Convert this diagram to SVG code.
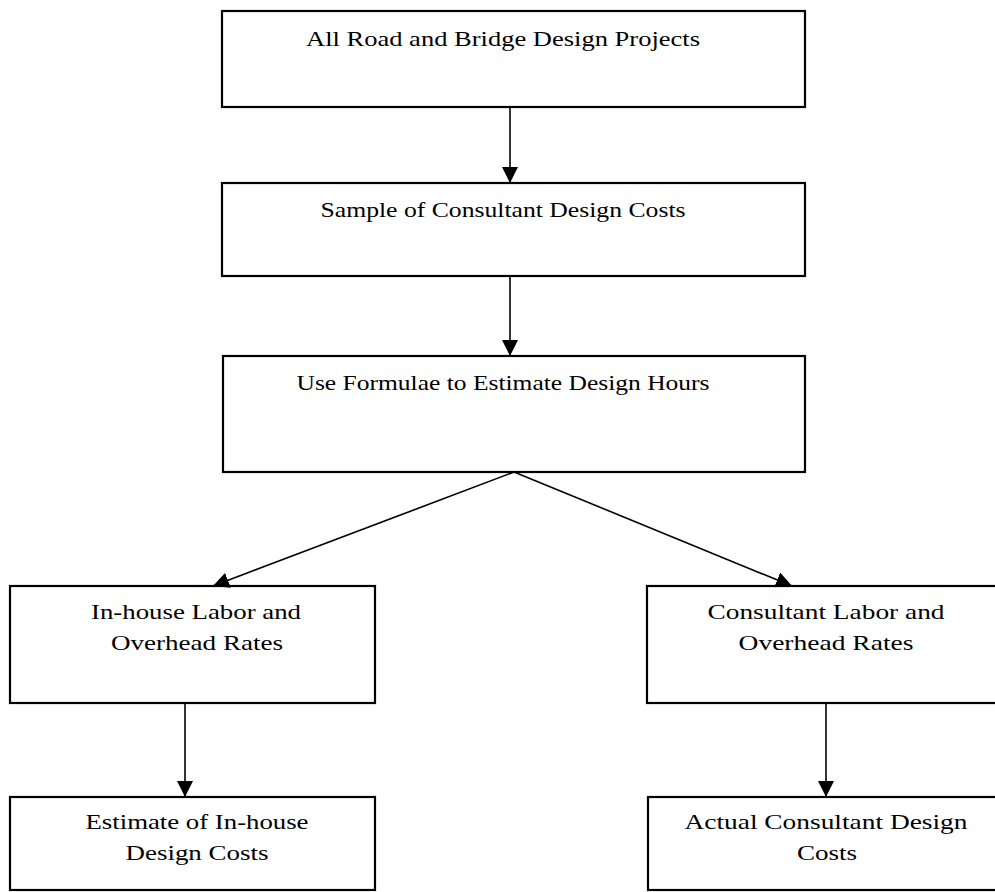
<svg xmlns="http://www.w3.org/2000/svg" width="995" height="892" viewBox="0 0 995 892">
<style>
.box{fill:#fff;stroke:#000;stroke-width:2.2}
.lbl{font-family:"Liberation Serif","Times New Roman",serif;font-size:22px;fill:#000;text-anchor:middle}
.con{stroke:#000;stroke-width:1.6;fill:none}
</style>
<defs>
<marker id="ah" viewBox="0 0 10 10" refX="10" refY="5" markerWidth="16" markerHeight="16" markerUnits="userSpaceOnUse" orient="auto">
<path d="M0,0 L10,5 L0,10 z" fill="#000"/>
</marker>
</defs>
<rect width="995" height="892" fill="#fff"/>
<g id="n1"><rect class="box" x="222" y="11" width="583" height="96"/><text class="lbl" x="503" y="46" textLength="394" lengthAdjust="spacingAndGlyphs">All Road and Bridge Design Projects</text></g>
<g id="n2"><rect class="box" x="222" y="183" width="583" height="93"/><text class="lbl" x="503" y="217" textLength="365" lengthAdjust="spacingAndGlyphs">Sample of Consultant Design Costs</text></g>
<g id="n3"><rect class="box" x="223" y="356" width="582" height="116"/><text class="lbl" x="503" y="390" textLength="413" lengthAdjust="spacingAndGlyphs">Use Formulae to Estimate Design Hours</text></g>
<g id="n4"><rect class="box" x="10" y="586" width="365" height="117"/><text class="lbl" x="196" y="619" textLength="210" lengthAdjust="spacingAndGlyphs">In-house Labor and</text><text class="lbl" x="197" y="650" textLength="172" lengthAdjust="spacingAndGlyphs">Overhead Rates</text></g>
<g id="n5"><rect class="box" x="647" y="586" width="360" height="117"/><text class="lbl" x="826" y="619" textLength="237" lengthAdjust="spacingAndGlyphs">Consultant Labor and</text><text class="lbl" x="826" y="650" textLength="175" lengthAdjust="spacingAndGlyphs">Overhead Rates</text></g>
<g id="n6"><rect class="box" x="10" y="797" width="365" height="93"/><text class="lbl" x="197" y="829" textLength="223" lengthAdjust="spacingAndGlyphs">Estimate of In-house</text><text class="lbl" x="197" y="860" textLength="143" lengthAdjust="spacingAndGlyphs">Design Costs</text></g>
<g id="n7"><rect class="box" x="648" y="797" width="360" height="93"/><text class="lbl" x="826" y="829" textLength="283" lengthAdjust="spacingAndGlyphs">Actual Consultant Design</text><text class="lbl" x="827" y="860" textLength="60" lengthAdjust="spacingAndGlyphs">Costs</text></g>
<g id="connectors">
<line class="con" x1="510" y1="107" x2="510" y2="183" marker-end="url(#ah)"/>
<line class="con" x1="510" y1="276" x2="510" y2="356" marker-end="url(#ah)"/>
<line class="con" x1="514" y1="472" x2="213" y2="586" marker-end="url(#ah)"/>
<line class="con" x1="514" y1="472" x2="792" y2="586" marker-end="url(#ah)"/>
<line class="con" x1="185" y1="703" x2="185" y2="797" marker-end="url(#ah)"/>
<line class="con" x1="826" y1="703" x2="826" y2="797" marker-end="url(#ah)"/>
</g>
</svg>
